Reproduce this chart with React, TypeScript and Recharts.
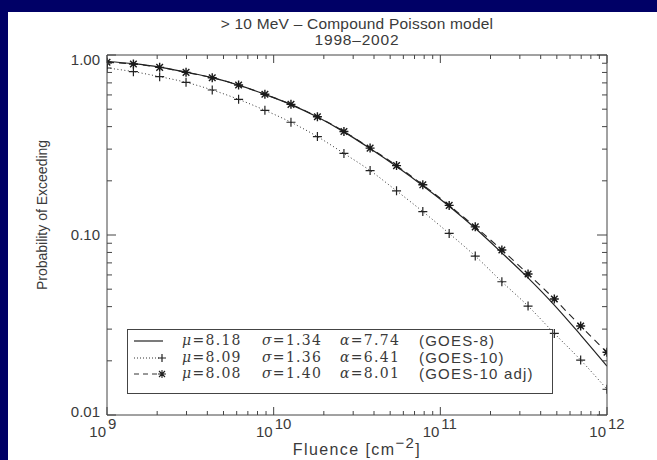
import { LineChart, Line, XAxis, YAxis } from 'recharts';

// fluence grid (cm^-2), 20 log-spaced points
const fluence = [
  1.0e9, 1.44e9, 2.07e9, 2.98e9, 4.28e9, 6.16e9, 8.86e9, 1.27e10, 1.83e10, 2.64e10,
  3.79e10, 5.46e10, 7.85e10, 1.13e11, 1.62e11, 2.34e11, 3.36e11, 4.83e11, 6.95e11, 1.0e12,
];
const goes8 = [
  0.92, 0.895, 0.857, 0.803, 0.748, 0.68, 0.604, 0.53, 0.452, 0.374,
  0.302, 0.24, 0.188, 0.1445, 0.109, 0.0796, 0.0578, 0.0408, 0.0278, 0.0187,
];
const goes10 = [
  0.847, 0.808, 0.758, 0.705, 0.639, 0.567, 0.493, 0.423, 0.352, 0.284,
  0.228, 0.176, 0.135, 0.102, 0.0764, 0.055, 0.0403, 0.0284, 0.0202, 0.0139,
];
const goes10adj = [
  0.911, 0.891, 0.854, 0.801, 0.748, 0.681, 0.605, 0.532, 0.454, 0.376,
  0.304, 0.243, 0.19, 0.146, 0.111, 0.0826, 0.0607, 0.0441, 0.0312, 0.0223,
];

const xDecades = [1e9, 1e10, 1e11, 1e12];
const yDecades = [0.01, 0.1, 1];
const minorSteps = [2, 3, 4, 5, 6, 7, 8, 9];

const legendRows = [
  { mu: '8.18', sigma: '1.34', alpha: '7.74', name: '(GOES-8)', kind: 'solid' },
  { mu: '8.09', sigma: '1.36', alpha: '6.41', name: '(GOES-10)', kind: 'dotted' },
  { mu: '8.08', sigma: '1.40', alpha: '8.01', name: '(GOES-10 adj)', kind: 'dashed' },
];

const xTicks = [
  ...xDecades,
  ...xDecades.slice(0, -1).flatMap(d => minorSteps.map(m => d * m)),
].sort((a, b) => a - b);
const yTicks = [
  ...yDecades,
  ...yDecades.slice(0, -1).flatMap(d => minorSteps.map(m => d * m)),
].sort((a, b) => a - b);

const data = fluence.map((x, i) => ({
  x,
  g8: goes8[i],
  g10: goes10[i],
  g10a: goes10adj[i],
}));

const AX = '#444';
const TXT = '#3a3a3a';
const SANS = '"Liberation Sans", Arial, sans-serif';

const isDecade = (v: number) => Math.abs(Math.log10(v) - Math.round(Math.log10(v))) < 1e-6;

const BottomTick = ({ x, y, payload }: any) => {
  const v = payload.value;
  const major = isDecade(v);
  const exp = Math.round(Math.log10(v));
  return (
    <g>
      <line x1={x} x2={x} y1={y} y2={y - (major ? 8 : 4)} stroke={AX} />
      {major && (
        <g fill={TXT} fontFamily={SANS} fontSize={15}>
          <text x={x - 1} y={y + 22} textAnchor="end">10</text>
          <text x={x + 1} y={y + 14} textAnchor="start">{exp}</text>
        </g>
      )}
    </g>
  );
};

const TopTick = ({ x, y, payload }: any) => {
  const major = isDecade(payload.value);
  return <line x1={x} x2={x} y1={y} y2={y + (major ? 8 : 4)} stroke={AX} />;
};

const LeftTick = ({ x, y, payload }: any) => {
  const v = payload.value;
  const major = isDecade(v);
  const ly = Math.min(Math.max(y, 60), 412);
  return (
    <g>
      <line x1={x} x2={x + (major ? 9 : 5)} y1={y} y2={y} stroke={AX} />
      {major && (
        <text x={x - 7} y={ly} dy="0.35em" textAnchor="end" fill={TXT} fontFamily={SANS} fontSize={15}>
          {v.toFixed(2)}
        </text>
      )}
    </g>
  );
};

const RightTick = ({ x, y, payload }: any) => {
  const major = isDecade(payload.value);
  return <line x1={x} x2={x - (major ? 10 : 5)} y1={y} y2={y} stroke={AX} />;
};

const plusDot = (p: any) => {
  const { cx, cy, index } = p;
  const s = 4.5;
  return (
    <path key={`p${index}`} d={`M${cx - s},${cy}H${cx + s}M${cx},${cy - s}V${cy + s}`} stroke="#222" strokeWidth={1.2} />
  );
};

const starDot = (p: any) => {
  const { cx, cy, index } = p;
  const s = 4.5;
  const d = 3.3;
  return (
    <path
      key={`s${index}`}
      d={`M${cx - s},${cy}H${cx + s}M${cx},${cy - s}V${cy + s}M${cx - d},${cy - d}L${cx + d},${cy + d}M${cx - d},${cy + d}L${cx + d},${cy - d}`}
      stroke="#1a1a1a"
      strokeWidth={1.4}
    />
  );
};

function LegendSample({ kind }: { kind: string }) {
  return (
    <svg width={34} height={14} style={{ position: 'absolute', left: 5, top: 0 }}>
      {kind === 'solid' && <line x1={1} x2={30} y1={7} y2={7} stroke="#222" strokeWidth={1.2} />}
      {kind === 'dotted' && (
        <>
          <line x1={1} x2={26} y1={7} y2={7} stroke="#333" strokeDasharray="1 2" />
          <path d="M25,7H33M29,3V11" stroke="#222" strokeWidth={1.2} />
        </>
      )}
      {kind === 'dashed' && (
        <>
          <line x1={1} x2={24} y1={7} y2={7} stroke="#333" strokeDasharray="5 4" />
          <path d="M25,7H33M29,3V11M26,4L32,10M26,10L32,4" stroke="#222" strokeWidth={1.1} />
        </>
      )}
    </svg>
  );
}

export default function App() {
  return (
    <div style={{ position: 'absolute', left: 0, top: 0, width: 657, height: 460, background: '#000066', overflow: 'hidden' }}>
      <div style={{ position: 'absolute', left: 8, top: 12, right: 0, bottom: 0, background: '#fff' }} />

      {/* title */}
      <div
        style={{
          position: 'absolute', left: 107, top: 16, width: 500, textAlign: 'center',
          fontFamily: SANS, fontSize: 15.5, lineHeight: '16px', color: TXT, letterSpacing: 0.2,
        }}
      >
        &gt; 10 MeV – Compound Poisson model
        <br />
        <span style={{ letterSpacing: 0.8 }}>1998–2002</span>
      </div>

      <div style={{ position: 'absolute', left: 0, top: 0 }}>
        <LineChart width={657} height={460} data={data} margin={{ top: 54, right: 49, bottom: 44, left: 106 }}>
          <XAxis
            dataKey="x" type="number" scale="log" domain={[1e9, 1e12]} allowDataOverflow
            ticks={xTicks} interval={0} height={1} tickSize={0} tickMargin={0} tickLine={false}
            axisLine={{ stroke: AX }} tick={(p: any) => <BottomTick {...p} />}
          />
          <XAxis
            xAxisId="top" orientation="top" dataKey="x" type="number" scale="log" domain={[1e9, 1e12]} allowDataOverflow
            ticks={xTicks} interval={0} height={1} tickSize={0} tickMargin={0} tickLine={false}
            axisLine={{ stroke: AX }} tick={(p: any) => <TopTick {...p} />}
          />
          <YAxis
            type="number" scale="log" domain={[0.01, 1]} allowDataOverflow
            ticks={yTicks} interval={0} width={1} tickSize={0} tickMargin={0} tickLine={false}
            axisLine={{ stroke: AX }} tick={(p: any) => <LeftTick {...p} />}
          />
          <YAxis
            yAxisId="right" orientation="right" type="number" scale="log" domain={[0.01, 1]} allowDataOverflow
            ticks={yTicks} interval={0} width={1} tickSize={0} tickMargin={0} tickLine={false}
            axisLine={{ stroke: AX }} tick={(p: any) => <RightTick {...p} />}
          />
          <Line dataKey="g10" type="monotone" stroke="#333" strokeWidth={1} strokeDasharray="1 2.5" dot={plusDot} isAnimationActive={false} />
          <Line dataKey="g10a" type="monotone" stroke="#222" strokeWidth={1.1} strokeDasharray="7 5" dot={starDot} isAnimationActive={false} />
          <Line dataKey="g8" type="monotone" stroke="#222" strokeWidth={1.2} dot={false} isAnimationActive={false} />
        </LineChart>
      </div>

      {/* axis titles */}
      <div
        style={{
          position: 'absolute', left: 42, top: 215, transform: 'translate(-50%, -50%) rotate(-90deg)',
          whiteSpace: 'nowrap', fontFamily: SANS, fontSize: 14, color: TXT,
        }}
      >
        Probability of Exceeding
      </div>
      <div
        style={{
          position: 'absolute', left: 357, top: 450, transform: 'translate(-50%, -50%)',
          whiteSpace: 'nowrap', fontFamily: SANS, fontSize: 16, color: TXT, letterSpacing: 1.4,
        }}
      >
        Fluence [cm<span style={{ position: 'relative', top: -7, fontSize: 15 }}>−2</span>]
      </div>

      {/* legend */}
      <div
        style={{
          position: 'absolute', left: 127, top: 329, width: 426, height: 65,
          border: `1px solid ${AX}`, boxSizing: 'border-box', color: TXT,
        }}
      >
        {legendRows.map((r, i) => (
          <div key={r.name} style={{ position: 'absolute', left: 0, top: 4 + i * 16.5, width: '100%', height: 14 }}>
            <LegendSample kind={r.kind} />
            <span style={{ position: 'absolute', left: 54, top: -2, fontFamily: '"DejaVu Serif", serif', fontSize: 14, letterSpacing: 1.3 }}>
              <i>μ</i>={r.mu}
            </span>
            <span style={{ position: 'absolute', left: 134, top: -2, fontFamily: '"DejaVu Serif", serif', fontSize: 14, letterSpacing: 1.3 }}>
              <i>σ</i>={r.sigma}
            </span>
            <span style={{ position: 'absolute', left: 212, top: -2, fontFamily: '"DejaVu Serif", serif', fontSize: 14, letterSpacing: 1.3 }}>
              <i>α</i>={r.alpha}
            </span>
            <span style={{ position: 'absolute', left: 291, top: -2, fontFamily: SANS, fontSize: 15, letterSpacing: 1.2 }}>
              {r.name}
            </span>
          </div>
        ))}
      </div>
    </div>
  );
}
